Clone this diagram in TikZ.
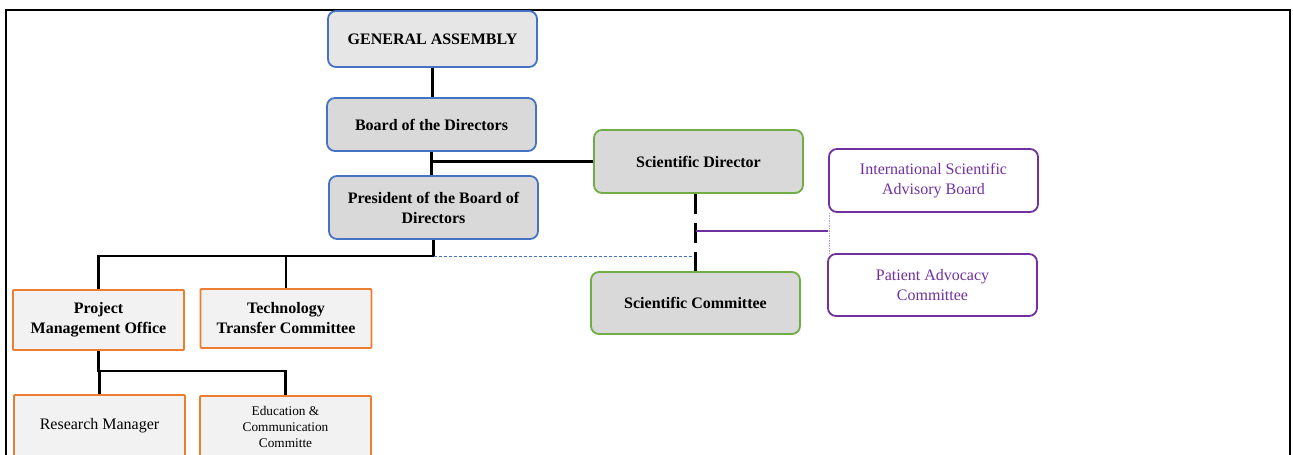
\documentclass[tikz,border=0pt]{standalone}
\usepackage{fontspec}
\setmainfont{Liberation Serif}
\usetikzlibrary{calc}
\definecolor{cblue}{HTML}{4472C4}
\definecolor{cgreen}{HTML}{70AD47}
\definecolor{corange}{HTML}{ED7D31}
\definecolor{cpurple}{HTML}{7030A0}
\definecolor{clpurple}{HTML}{B89CDA}
\definecolor{gaf}{HTML}{E7E6E6}
\definecolor{gf}{HTML}{D9D9D9}
\definecolor{of}{HTML}{F2F2F2}
\tikzset{
  box/.style={draw, line width=1.8pt, inner sep=0pt, align=center, minimum width=209pt,
    font=\fontsize{16}{20}\selectfont},
  bluebox/.style={box, draw=cblue, fill=gf, rounded corners=8pt, font=\fontsize{16}{20}\selectfont\bfseries},
  greenbox/.style={box, draw=cgreen, fill=gf, rounded corners=8pt, font=\fontsize{16}{20}\selectfont\bfseries},
  purplebox/.style={box, draw=cpurple, fill=white, rounded corners=8pt, text=cpurple},
  orangebox/.style={box, draw=corange, fill=of, minimum width=171pt, rounded corners=1pt},
  conn/.style={line width=2.8pt, black},
}
\begin{document}
\begin{tikzpicture}[x=1pt,y=-1pt]
\useasboundingbox (0,0) rectangle (1293,455);
\clip (0,0) rectangle (1293,455);
\fill[white] (0,0) rectangle (1293,455);
\draw[line width=2pt] (6,470) -- (6,10) -- (1290,10) -- (1290,470);

\node[bluebox, fill=gaf, minimum height=56pt] (ga) at (432.5,39) {GENERAL ASSEMBLY};
\node[bluebox, minimum height=53pt] (bod) at (431.5,124.5) {Board of the Directors};
\node[bluebox, minimum height=63pt] (pres) at (433.5,207.5) {President of the Board of\\Directors};
\node[greenbox, minimum height=63pt] (sd) at (698.5,161.5) {Scientific Director};
\node[greenbox, minimum height=62pt] (sc) at (695.5,303) {Scientific Committee};
\node[purplebox, minimum height=63pt] (isab) at (933.5,180.5) {International Scientific\\Advisory Board};
\node[purplebox, minimum height=62pt] (pac) at (932.5,285) {Patient Advocacy\\Committee};
\node[orangebox, minimum height=60pt, font=\fontsize{16}{20}\selectfont\bfseries] (pmo) at (98.5,320) {Project\\Management Office};
\node[orangebox, minimum height=59pt, font=\fontsize{16}{20}\selectfont\bfseries] (ttc) at (286,318.5) {Technology\\Transfer Committee};
\node[orangebox, minimum height=62pt] (rm) at (99.5,426) {Research Manager};
\node[orangebox, minimum height=62pt, font=\fontsize{13.3}{16}\selectfont] (edu) at (285.5,427) {Education \&\\Communication\\Committe};

% connectors
\draw[conn] (ga.south) -- (ga.south |- bod.north);
\draw[conn] (bod.south) -- (bod.south |- pres.north);
\draw[conn] (bod.south |- sd.west) -- (sd.west);
\coordinate (bus) at ($(pres.south)+(0,16)$);
\draw[conn] (pres.south) -- (bus) -| (pmo.north);
\draw[conn] (bus -| ttc.north) -- (ttc.north);
\draw[cblue, line width=0.8pt, dash pattern=on 3pt off 2pt] (bus) -- (bus -| sc.north);
\draw[conn, dash pattern=on 20pt off 9pt] (sc.north |- sd.south) -- (sc.north);
\coordinate (pj) at ($(sc.north |- sd.south)+(0,37)$);
\draw[cpurple, line width=1.2pt] (pj) -- (pj -| isab.west);
\draw[clpurple, line width=0.9pt, dash pattern=on 1.5pt off 1pt] ($(isab.south west)+(1,0)$) -- ($(pac.north west)+(2,0)$);
\coordinate (bus2) at ($(pmo.south)+(0,20)$);
\draw[conn] (pmo.south) -- (bus2) -| (edu.north);
\draw[conn] (bus2) -- (bus2 -| rm.north) -- (rm.north);
\end{tikzpicture}
\end{document}
